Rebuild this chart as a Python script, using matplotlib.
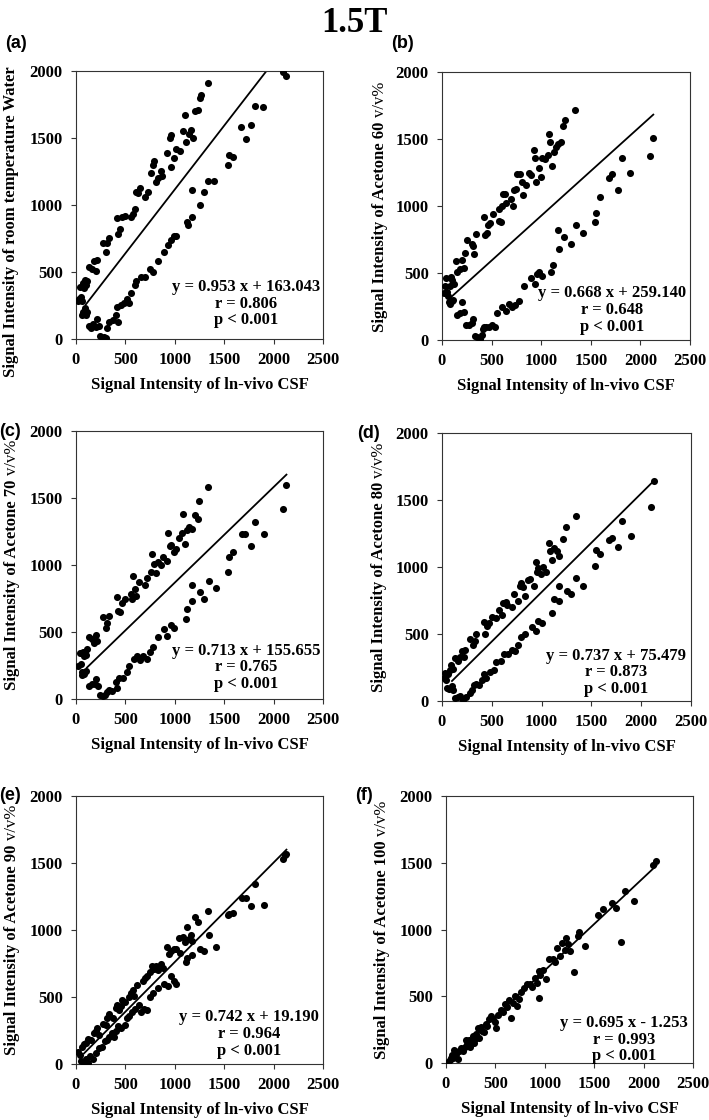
import numpy as np
import matplotlib
matplotlib.use("Agg")
import matplotlib.pyplot as plt

# values (estimates)
a_x = [20, 30, 40, 50, 60, 70, 80, 90, 100, 110, 130, 160, 180, 200, 210, 270, 300, 310, 330,
       420, 430, 450, 470, 500, 560, 580, 600, 610, 630, 650, 700, 730, 760, 780, 790, 810, 830,
       860, 870, 920, 950, 960, 960, 990, 1010, 1050, 1080, 1100, 1110, 1140, 1160, 1180, 1200,
       1230, 1250, 1270, 1340, 2100, 2130,
       60, 70, 90, 100, 110, 130, 150, 170, 200, 210, 230, 240, 270, 280, 300, 310, 330, 370, 400,
       410, 430, 460, 490, 520, 540, 560, 600, 610, 660, 700, 750, 780, 830, 890, 930, 960, 990,
       1010, 1120, 1130, 1170, 1170, 1250, 1300, 1340, 1400, 1540, 1550, 1590, 1670, 1720, 1770,
       1810, 1890]
a_y = [280, 300, 390, 310, 280, 420, 380, 440, 400, 430, 540, 520, 580, 510, 590, 720, 650, 720, 750,
       900, 780, 820, 910, 920, 910, 930, 970, 1100, 1090, 1130, 1060, 1100, 1240, 1300, 1330, 1170,
       1200, 1250, 1220, 1390, 1500, 1520, 1280, 1350, 1420, 1400, 1550, 1670, 1470, 1530, 1560, 1500,
       1700, 1710, 1800, 1820, 1910, 1990, 1960,
       180, 200, 230, 180, 200, 100, 80, 110, 90, 150, 100, 20, 10, 15, 10, 80, 130, 140, 180,
       240, 130, 250, 270, 300, 270, 340, 400, 430, 460, 460, 520, 500, 580, 650, 700, 740, 770,
       770, 870, 850, 910, 1110, 1000, 1100, 1180, 1180, 1300, 1370, 1360, 1580, 1490, 1600,
       1740, 1730]

b_x = [20, 30, 40, 50, 60, 70, 80, 90, 100, 110, 120, 140, 150, 180, 200, 220, 230, 250, 300,
       310, 320, 340, 420, 430, 450, 460, 480, 510, 570, 570, 590, 600, 610, 640, 650, 700, 720,
       730, 750, 760, 790, 810, 820, 850, 880, 900, 930, 940, 950, 980, 1000, 1010, 1040, 1070,
       1080, 1090, 1110, 1130, 1150, 1170, 1200, 1220, 1240, 1340,
       80, 100, 150, 180, 200, 220, 240, 270, 300, 310, 330, 350, 380, 400, 410, 420, 440, 470,
       500, 530, 550, 600, 650, 680, 710, 740, 780, 830, 900, 940, 960, 980, 1010, 1100, 1120,
       1170, 1180, 1230, 1300, 1350, 1420, 1540, 1550, 1590, 1680, 1710, 1770, 1810, 1900, 2100,
       2130]
b_y = [350, 400, 460, 360, 330, 280, 400, 470, 450, 300, 420, 590, 510, 530, 600, 540, 650, 750, 720,
       700, 640, 790, 920, 780, 800, 860, 870, 940, 980, 890, 880, 1000, 1090, 1090, 1020, 1050, 1000,
       1120, 1130, 1240, 1240, 1180, 1080, 1160, 1250, 1230, 1420, 1360, 1180, 1280, 1220, 1360, 1350,
       1380, 1540, 1480, 1300, 1400, 1440, 1460, 1480, 1600, 1640, 1720,
       270, 290, 190, 200, 280, 210, 110, 110, 130, 160, 30, 20, 10, 40, 80, 100, 100, 100,
       110, 100, 200, 250, 220, 270, 250, 260, 290, 400, 460, 420, 490, 510, 480, 510, 560,
       820, 680, 770, 720, 860, 800, 880, 950, 1070, 1210, 1240, 1120, 1360, 1250, 1370,
       1510]

c_x = [20, 40, 50, 60, 70, 80, 90, 100, 110, 130, 160, 180, 200, 210, 270, 300, 310, 330, 420,
       430, 450, 470, 500, 560, 570, 580, 600, 610, 640, 700, 720, 760, 770, 790, 810, 830, 860,
       880, 920, 930, 950, 960, 990, 1010, 1040, 1070, 1080, 1100, 1120, 1140, 1170, 1200, 1230,
       1240, 1340,
       60, 80, 100, 130, 160, 190, 200, 220, 240, 270, 290, 310, 330, 360, 400, 420, 440, 480,
       520, 540, 590, 620, 650, 680, 720, 750, 780, 830, 890, 920, 960, 990, 1110, 1120, 1170,
       1170, 1250, 1300, 1350, 1420, 1540, 1550, 1590, 1680, 1710, 1770, 1810, 1900, 2100, 2130]
c_y = [250, 340, 260, 180, 350, 320, 350, 330, 370, 460, 450, 420, 480, 430, 610, 530, 570, 620, 760,
       660, 650, 720, 750, 780, 750, 920, 820, 770, 870, 850, 900, 950, 1080, 1010, 940, 1020, 1000,
       1060, 1030, 1240, 1140, 1150, 1100, 1120, 1200, 1240, 1380, 1160, 1260, 1280, 1270, 1370, 1340,
       1480, 1580,
       200, 190, 210, 100, 110, 110, 150, 100, 30, 20, 30, 50, 70, 60, 130, 80, 160, 160,
       200, 250, 300, 320, 290, 320, 300, 350, 390, 460, 520, 470, 550, 530, 600, 670, 730,
       850, 800, 750, 880, 830, 950, 1060, 1100, 1230, 1230, 1140, 1320, 1230, 1420, 1600]

d_x = [20, 30, 40, 60, 80, 90, 110, 130, 160, 180, 200, 220, 230, 280, 310, 330, 340, 420, 430,
       450, 470, 500, 540, 570, 600, 610, 640, 650, 700, 720, 760, 780, 790, 810, 830, 860, 880,
       920, 940, 950, 960, 990, 1010, 1040, 1070, 1080, 1100, 1120, 1150, 1170, 1210, 1240, 1350,
       50, 70, 100, 110, 130, 160, 180, 210, 240, 280, 300, 320, 340, 370, 400, 420, 440, 480,
       520, 540, 590, 620, 660, 700, 730, 760, 790, 830, 900, 940, 960, 1000, 1100, 1120, 1170,
       1170, 1250, 1300, 1350, 1420, 1540, 1550, 1590, 1680, 1710, 1770, 1810, 1900, 2100, 2130]
d_y = [170, 210, 160, 200, 230, 270, 240, 320, 300, 330, 370, 330, 380, 460, 420, 450, 500, 590, 500,
       560, 580, 630, 620, 680, 640, 730, 740, 720, 700, 800, 750, 860, 880, 850, 780, 900, 910,
       860, 1040, 960, 990, 950, 1000, 960, 1180, 1120, 1050, 1140, 1120, 1080, 1210, 1300, 1380,
       100, 90, 110, 80, 20, 30, 40, 10, 30, 60, 80, 120, 130, 120, 160, 200, 170, 220,
       230, 290, 300, 350, 350, 380, 370, 420, 480, 500, 550, 520, 600, 580, 660, 760, 750,
       860, 820, 800, 920, 860, 1010, 1130, 1100, 1200, 1220, 1150, 1340, 1230, 1450, 1640]

e_x = [20, 40, 60, 80, 100, 120, 150, 180, 200, 210, 230, 270, 300, 310, 330, 370, 400, 420, 440,
       460, 470, 500, 540, 560, 580, 590, 620, 680, 700, 720, 750, 770, 790, 810, 830, 860, 880,
       920, 940, 960, 990, 1010, 1040, 1050, 1080, 1100, 1120, 1140, 1160, 1200, 1230, 1340,
       50, 80, 100, 120, 140, 170, 200, 230, 260, 290, 310, 330, 360, 380, 400, 430, 460, 500,
       520, 540, 570, 600, 640, 660, 690, 720, 750, 780, 830, 890, 930, 960, 990, 1010, 1110,
       1120, 1170, 1170, 1250, 1300, 1350, 1420, 1540, 1550, 1590, 1680, 1720, 1770, 1810, 1900,
       2100, 2120, 2130]
e_y = [90, 70, 130, 150, 160, 190, 180, 230, 250, 270, 220, 300, 290, 340, 370, 340, 420, 440, 400,
       430, 480, 460, 500, 530, 550, 510, 590, 620, 640, 660, 690, 730, 710, 730, 700, 750, 720,
       870, 820, 840, 860, 860, 940, 830, 950, 910, 1020, 930, 960, 1100, 1060, 1140,
       20, 10, 40, 10, 60, 40, 80, 120, 130, 170, 180, 200, 230, 200, 250, 280, 270, 290,
       340, 360, 390, 410, 440, 390, 410, 400, 500, 530, 570, 600, 580, 660, 620, 600, 760,
       790, 810, 920, 860, 840, 960, 870, 1110, 1120, 1130, 1240, 1240, 1180, 1340, 1190,
       1530, 1560, 1570]

f_x = [20, 40, 50, 60, 70, 80, 90, 100, 110, 120, 130, 150, 170, 190, 200, 210, 230, 240, 260,
       270, 280, 290, 300, 320, 330, 350, 360, 380, 400, 420, 440, 460, 480, 500, 510, 530, 560,
       580, 600, 620, 640, 660, 680, 700, 720, 740, 760, 790, 820, 850, 870, 900, 920, 940, 950,
       940, 980, 1010, 1040, 1080, 1100, 1120, 1150, 1170, 1200, 1210, 1230, 1260, 1300, 1340,
       1350, 1410, 1540, 1590, 1680, 1720, 1770, 1810, 1900, 2100, 2130]
f_y = [10, 20, 40, 60, 40, 100, 60, 70, 80, 30, 90, 110, 90, 120, 170, 140, 170, 120, 160,
       200, 150, 180, 220, 260, 190, 270, 240, 230, 290, 280, 330, 350, 330, 310, 260, 360, 400,
       380, 440, 420, 470, 340, 450, 500, 430, 480, 530, 560, 590, 590, 570, 640, 600, 690, 660,
       490, 700, 630, 780, 780, 760, 860, 800, 900, 850, 940, 890, 840, 680, 950,
       980, 880, 1110, 1150, 1200, 1160, 910, 1290, 1210, 1480, 1510]

xs = [a_x, b_x, c_x, d_x, e_x, f_x]
ys = [a_y, b_y, c_y, d_y, e_y, f_y]
slopes = [0.953, 0.668, 0.713, 0.737, 0.742, 0.695]
intercepts = [163.043, 259.140, 155.655, 75.479, 19.190, -1.253]
line_x0 = [100, 85, 110, 100, 80, 30]
r_vals = ["0.806", "0.648", "0.765", "0.873", "0.964", "0.993"]
panel_tags = ["(a)", "(b)", "(c)", "(d)", "(e)", "(f)"]
# y titles: bold part, regular part
y_titles = [("Signal Intensity of room temperature Water", ""),
            ("Signal Intensity of Acetone 60", "v/v%"),
            ("Signal Intensity of Acetone 70", "v/v%"),
            ("Signal Intensity of Acetone 80", "v/v%"),
            ("Signal Intensity of Acetone 90", "v/v%"),
            ("Signal Intensity of Acetone 100", "v/v%")]
x_title = "Signal Intensity of ln-vivo CSF"

# layout in pixels: left, top, right, bottom of each plot box
W, H = 709, 1120
boxes = [(76, 71, 323, 339), (442, 72, 690, 340),
         (76, 431, 323, 699), (442, 433, 691, 701),
         (76, 796, 323, 1064), (446, 796, 693, 1063)]
tag_pos = [(16, 43), (402, 43), (10, 432), (368, 433), (10, 796), (364, 795)]
ylab_pos = [(11, 222), (380, 207), (12, 565), (379, 567), (12, 930), (382, 930)]
eq_pos = [(1722, 262), (1711, 224), (1722, 236), (1752, 213), (1749, 224), (1805, 174)]

serif = "Liberation Serif"
plt.rcParams["font.family"] = serif
plt.rcParams["font.weight"] = "bold"

fig = plt.figure(figsize=(W / 100, H / 100), dpi=100)
renderer = fig.canvas.get_renderer()
fig.text(354 / W, 1 - 23 / H, "1.5T", ha="center", va="center", fontsize=25,
         fontweight="bold", family=serif)

for i in range(6):
    l, t, r, b = boxes[i]
    ax = fig.add_axes([l / W, 1 - b / H, (r - l) / W, (b - t) / H])
    ax.scatter(xs[i], ys[i], s=26, color="black", linewidths=0, zorder=3)
    lx = np.array([line_x0[i], max(xs[i])])
    ax.plot(lx, slopes[i] * lx + intercepts[i], color="black", lw=1.3, zorder=2)
    ax.set_xlim(0, 2500)
    ax.set_ylim(0, 2000)
    ax.set_xticks(range(0, 2501, 500))
    ax.set_yticks(range(0, 2001, 500))
    for sp in ax.spines.values():
        sp.set_color("#333333")
        sp.set_linewidth(0.8)
    ax.tick_params(direction="out", length=3.5, width=0.8, color="#333333",
                   labelsize=12, pad=6)
    for lab in ax.get_xticklabels() + ax.get_yticklabels():
        lab.set_fontweight("bold")

    sign = "+" if intercepts[i] >= 0 else "-"
    eq = "y = %.3f x %s %.3f\nr = %s\np < 0.001" % (slopes[i], sign, abs(intercepts[i]), r_vals[i])
    ax.text(eq_pos[i][0], eq_pos[i][1], eq, ha="center", va="center", fontsize=12,
            fontweight="bold", linespacing=1.05, multialignment="center")

    fig.text(((l + r) / 2) / W, 1 - (b + 46) / H, x_title, ha="center", va="center",
             fontsize=12, fontweight="bold")

    # y title: bold words followed by a regular-weight unit
    bold_part, reg_part = y_titles[i]
    t1 = fig.text(0, 0, bold_part + (" " if reg_part else ""), rotation=90, ha="center",
                  va="bottom", fontsize=12, fontweight="bold")
    t2 = fig.text(0, 0, reg_part, rotation=90, ha="center", va="bottom", fontsize=12,
                  fontweight="normal")
    h1 = t1.get_window_extent(renderer).height
    h2 = t2.get_window_extent(renderer).height if reg_part else 0
    cx, cy = ylab_pos[i]
    y0 = (H - cy) - (h1 + h2) / 2
    t1.set_position((cx / W, y0 / H))
    t2.set_position((cx / W, (y0 + h1) / H))

    fig.text(tag_pos[i][0] / W, 1 - tag_pos[i][1] / H, panel_tags[i], ha="center",
             va="center", fontsize=13, fontweight="bold", family="Liberation Sans")

fig.savefig("out.png", dpi=100)
